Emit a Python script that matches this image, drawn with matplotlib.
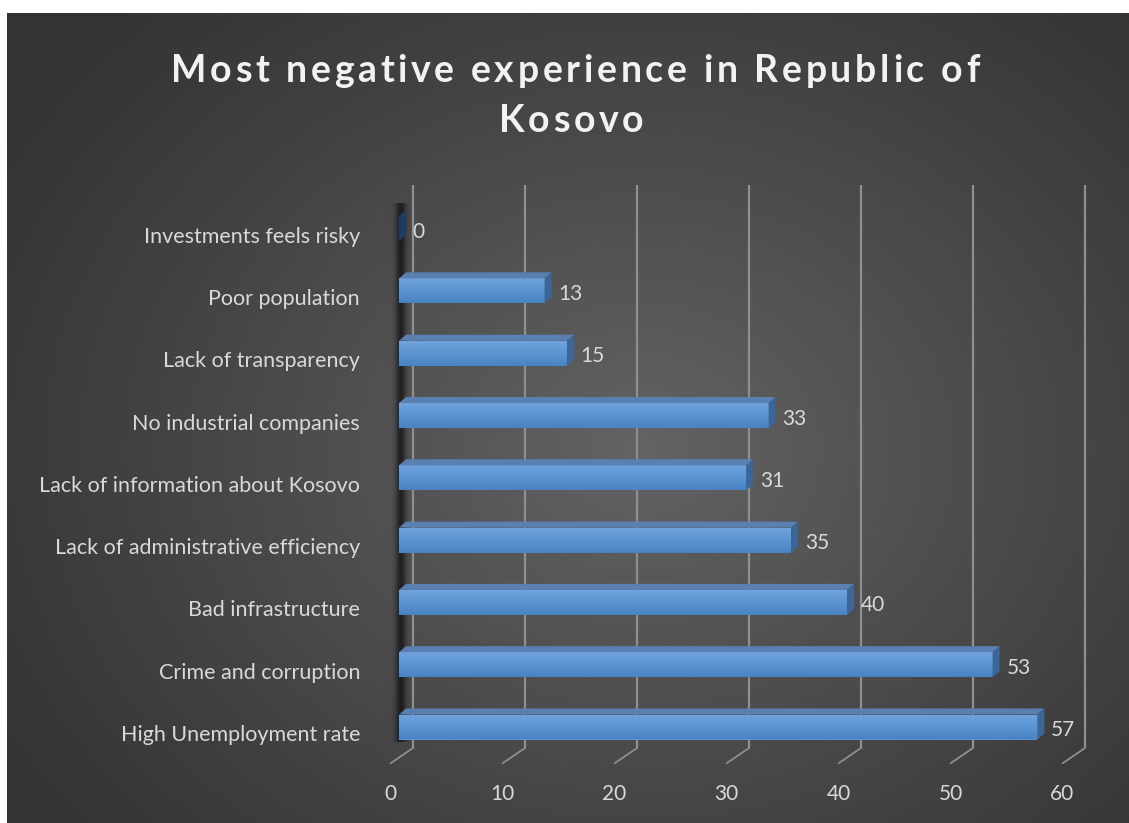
import numpy as np
import matplotlib
matplotlib.use("Agg")
import matplotlib.pyplot as plt
from matplotlib.patches import Polygon
import matplotlib.transforms as mtransforms

plt.rcParams['font.family'] = ['Lato', 'DejaVu Sans']

# data (bottom -> top)
categories = ["High Unemployment rate", "Crime and corruption", "Bad infrastructure",
              "Lack of administrative efficiency", "Lack of information about Kosovo",
              "No industrial companies", "Lack of transparency", "Poor population",
              "Investments feels risky"]
values = [57, 53, 40, 35, 31, 33, 15, 13, 0]
xticks = [0, 10, 20, 30, 40, 50, 60]
title_lines = ["Most negative experience in Republic of", "Kosovo"]

W, H = 1129, 823
fig = plt.figure(figsize=(W / 100, H / 100), dpi=100)

# background panel with radial gradient
bg = fig.add_axes([0, 0, 1, 1])
yy, xx = np.mgrid[0:H, 0:W]
r = np.sqrt(((xx - 640) / 760.0) ** 2 + ((yy - 450) / 620.0) ** 2)
v = 0.20 + 0.19 * np.clip(1 - r, 0, 1) ** 1.1
img = np.dstack([v, v, v])
inside = (xx >= 7) & (yy >= 13)
img[~inside] = 1.0
bg.imshow(img, extent=[0, W, H, 0], aspect='auto')
bg.set_xlim(0, W)
bg.set_ylim(H, 0)
bg.axis('off')

# main axes: x in values, y in category index (front plane of bars)
px_x = 11.2      # px per unit
px_y = 62.3      # px per category
x0_px = 399
yc0_px = 727
ax = fig.add_axes([x0_px / W, (H - (yc0_px + 0.5 * px_y)) / H,
                   60 * px_x / W, 9 * px_y / H])
ax.patch.set_visible(False)
for s in ax.spines.values():
    s.set_visible(False)
ax.set_xticks([])
ax.set_yticks([])

# depth offsets in data units
bdx, bdy = 7 / px_x, 6 / px_y          # bar depth
wdx = 14 / px_x                         # back wall shift
wall_bot = -21 / px_y
wall_top = (yc0_px - 185) / px_y
fdx, fdy = -22 / px_x, -15 / px_y       # floor ticks

grid_c = '#8f8f8f'
for t in xticks:
    ax.plot([t + wdx, t + wdx], [wall_bot, wall_top], color=grid_c, lw=1.6,
            zorder=1, clip_on=False, solid_capstyle='butt')
    ax.plot([t + wdx, t + wdx + fdx], [wall_bot, wall_bot + fdy], color=grid_c,
            lw=1.3, zorder=1, clip_on=False)
    ax.text(t + wdx + fdx - 0.05, wall_bot + fdy - 31 / px_y, str(t), ha='center',
            va='center', fontsize=15, color='#d9d9d9', clip_on=False)

# side wall shadow
sx = np.linspace(-1.5, 2.0, 80)
alpha = 0.6 * np.exp(-((sx - 0.15) / 0.45) ** 2)
sh = np.zeros((1, 80, 4))
sh[0, :, 3] = alpha
shadow = ax.imshow(sh, extent=[-1.5, 2.0, wall_bot + 0.1, wall_top - 0.3],
                   aspect='auto', zorder=2, interpolation='bilinear')
shadow.set_clip_on(False)

# bars
h = 25 / px_y
bars = ax.barh(range(len(values)), values, height=h, color='#5b93d3',
               edgecolor='none', zorder=4)
grad = np.linspace(0, 1, 50).reshape(-1, 1)
cmap = matplotlib.colors.LinearSegmentedColormap.from_list(
    'bar', ['#6fa3dc', '#5a94d2', '#4a83c3'])
for i, (b, val) in enumerate(zip(bars, values)):
    yb, yt = i - h / 2, i + h / 2
    if val > 0:
        im = ax.imshow(grad, extent=[0, val, yb, yt], aspect='auto', cmap=cmap,
                       zorder=4.5, origin='upper')
        im.set_clip_path(b)
    top = Polygon([(0, yt), (val, yt), (val + bdx, yt + bdy), (bdx, yt + bdy)],
                  closed=True, facecolor='#5a80b2', edgecolor='none', zorder=5)
    ax.add_patch(top)
    end_c = '#3c6598' if val > 0 else '#1d3c63'
    end = Polygon([(val, yb), (val, yt), (val + bdx, yt + bdy), (val + bdx, yb + bdy)],
                  closed=True, facecolor=end_c, edgecolor='none', zorder=5)
    ax.add_patch(end)
    ax.text(val + bdx + 0.6, i - 3 / px_y, str(val), ha='left', va='center',
            fontsize=15, color='#d9d9d9', zorder=6)
    ax.text((360 - x0_px) / px_x, i - 8 / px_y, categories[i], ha='right',
            va='center', fontsize=15.5, color='#d9d9d9', clip_on=False)

ax.set_xlim(0, 60)
ax.set_ylim(-0.5, 8.5)


# title with letter spacing
def spaced(s, cx, base_y, size, spacing):
    ren = fig.canvas.get_renderer()
    tr = mtransforms.IdentityTransform()

    t = fig.text(0, 0, 'M', fontsize=size, fontweight='bold', transform=tr)
    mw = t.get_window_extent(ren).width
    t.remove()

    def width(txt):
        t = fig.text(0, 0, txt + 'M', fontsize=size, fontweight='bold', transform=tr)
        w = t.get_window_extent(ren).width
        t.remove()
        return w - mw

    total = width(s) + spacing * (len(s) - 1)
    x = cx - total / 2
    for k, ch in enumerate(s):
        xk = x + width(s[:k]) + spacing * k
        fig.text(xk, H - base_y, ch, fontsize=size, fontweight='bold',
                 color='#f2f2f2', transform=tr, ha='left', va='baseline')
    return total


fig.canvas.draw()
spacing = 3.7
spaced(title_lines[0], 575, 82, 27, spacing)
spaced(title_lines[1], 571, 132, 27, spacing)

fig.savefig('out.png', dpi=100)
